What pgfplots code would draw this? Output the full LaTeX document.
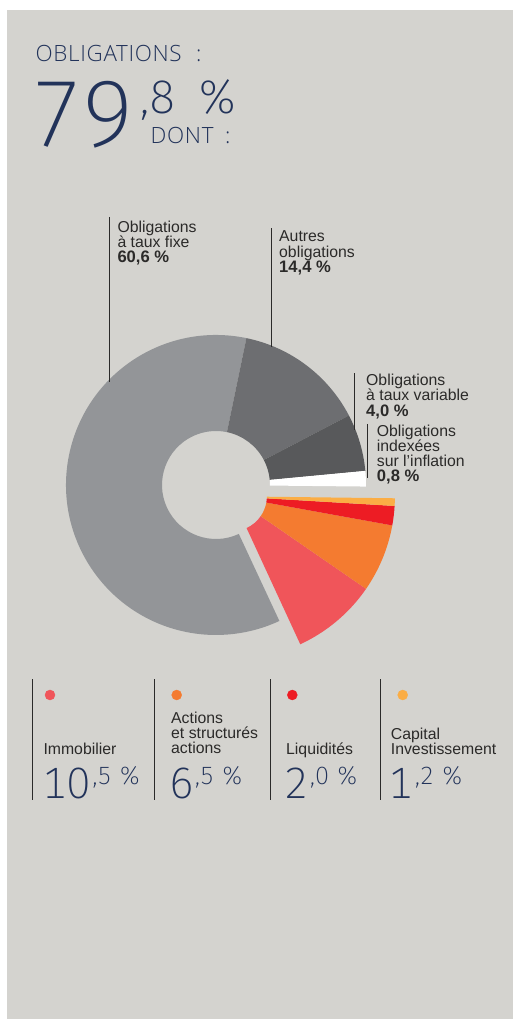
\documentclass[border=0pt]{standalone}
\usepackage{pgfplots}
\pgfplotsset{compat=1.18}
\usetikzlibrary{calc}
\usepackage{fontspec}
\setmainfont{Liberation Sans}
\IfFontExistsTF{Open Sans Light}{\newfontfamily\light{Open Sans Light}[LetterSpace=3]}{\newfontfamily\light{Liberation Sans}}
\IfFontExistsTF{Fira Sans ExtraLight}{\newfontfamily\xlight{Fira Sans ExtraLight}[Numbers=Monospaced]}{\let\xlight\light}

\definecolor{panel}{HTML}{D4D3CF}
\definecolor{navy}{HTML}{22335A}
\definecolor{txt}{HTML}{2B2A29}
\definecolor{cFixe}{HTML}{939598}
\definecolor{cAutres}{HTML}{6D6E71}
\definecolor{cVar}{HTML}{58595B}
\definecolor{cImmo}{HTML}{F0555A}
\definecolor{cAct}{HTML}{F47B30}
\definecolor{cLiq}{HTML}{ED1C24}
\definecolor{cCap}{HTML}{FBAD45}

% ring sector: centre x, centre y, inner r, outer r, start angle, end angle, colour
\newcommand{\slice}[7]{%
  \fill[#7] ($(axis cs:#1,#2)+(#5:#4pt)$) arc[start angle=#5, end angle=#6, radius=#4pt]
    -- ($(axis cs:#1,#2)+(#6:#3pt)$) arc[start angle=#6, end angle=#5, radius=#3pt] -- cycle;}
\newcommand{\lbl}[3]{\node[anchor=base west, inner sep=0pt, text=txt,
  font=\fontsize{15.8}{16}\selectfont] at (axis cs:#1,#2) {#3};}
\newcommand{\val}[3]{\node[anchor=base west, inner sep=0pt, text=txt,
  font=\fontsize{16.6}{16}\selectfont\bfseries] at (axis cs:#1,#2) {#3};}
% big figure: x, x of decimals, integer part, decimal
\newcommand{\pct}[4]{%
  \node[anchor=base west, inner sep=0pt, text=navy] at (axis cs:#1,220.7)
    {\xlight\fontsize{44}{44}\selectfont #3};
  \node[anchor=base west, inner sep=0pt, text=navy] at (axis cs:#2,234)
    {\xlight\fontsize{25}{25}\selectfont ,#4~\%};}

\begin{document}
\begin{tikzpicture}
\begin{axis}[
    x=1pt, y=1pt,
    xmin=0, xmax=513, ymin=0, ymax=1019,
    hide axis, clip=false,
  ]
  \fill[white] (axis cs:0,0) rectangle (axis cs:513,1019);
  \fill[panel] (axis cs:7,0) rectangle (axis cs:513,1009);

  % obligations 79,8 %: 60,6 / 14,4 / 4,0 / 0,8
  \slice{216}{534}{54}{150}{78.3}{295}{cFixe}
  \slice{216}{534}{54}{150}{27.6}{78.3}{cAutres}
  \slice{216}{534}{54}{150}{5.4}{27.6}{cVar}
  \slice{216}{534}{54}{150}{-0.6}{5.4}{white}
  % detached part: 10,5 / 6,5 / 2,0 / 1,2
  \slice{231.9}{522.7}{35}{163}{-65.2}{-34.6}{cImmo}
  \slice{231.9}{522.7}{35}{163}{-34.6}{-10.3}{cAct}
  \slice{231.9}{522.7}{35}{163}{-10.3}{-3.4}{cLiq}
  \slice{231.9}{522.7}{35}{163}{-3.4}{-0.7}{cCap}

  % leader lines
  \draw[txt, line width=0.9pt] (axis cs:109.3,802) -- (axis cs:109.3,637);
  \draw[txt, line width=0.9pt] (axis cs:271,790.7) -- (axis cs:271,672.3);
  \draw[txt, line width=0.9pt] (axis cs:354.7,645.7) -- (axis cs:354.7,589);
  \draw[txt, line width=0.9pt] (axis cs:367.3,595) -- (axis cs:367.3,541);

  \lbl{117.3}{786.7}{Obligations}
  \lbl{117.3}{771.7}{à taux fixe}
  \val{117.3}{756.3}{60,6 \%}
  \lbl{279}{777.3}{Autres}
  \lbl{279}{761.7}{obligations}
  \val{279}{746.3}{14,4 \%}
  \lbl{366}{633}{Obligations}
  \lbl{366}{618}{à taux variable}
  \val{366}{602.3}{4,0 \%}
  \lbl{376.7}{582.3}{Obligations}
  \lbl{376.7}{567.3}{indexées}
  \lbl{376.7}{552}{sur l’inflation}
  \val{376.7}{537}{0,8 \%}

  % heading
  \node[anchor=base west, inner sep=0pt, text=navy] at (axis cs:35.5,957.3)
    {\light\fontsize{22.4}{22}\selectfont OBLIGATIONS};
  \node[anchor=base west, inner sep=0pt, text=navy] at (axis cs:196,957.3)
    {\light\fontsize{22.4}{22}\selectfont :};
  \node[anchor=base west, inner sep=0pt, text=navy] at (axis cs:30,872.3)
    {\xlight\fontsize{94}{94}\selectfont 79};
  \node[anchor=base west, inner sep=0pt, text=navy] at (axis cs:140.5,905.7)
    {\xlight\fontsize{47}{47}\selectfont ,8~\hspace{7pt}\%};
  \node[anchor=base west, inner sep=0pt, text=navy] at (axis cs:150.5,875)
    {\light\fontsize{22.4}{22}\selectfont DONT};
  \node[anchor=base west, inner sep=0pt, text=navy] at (axis cs:225,875)
    {\light\fontsize{22.4}{22}\selectfont :};

  % lower key
  \draw[txt, line width=1pt] (axis cs:32.7,339.7) -- (axis cs:32.7,219);
  \draw[txt, line width=1pt] (axis cs:154,339.7) -- (axis cs:154,219);
  \draw[txt, line width=1pt] (axis cs:270.7,339.7) -- (axis cs:270.7,219);
  \draw[txt, line width=1pt] (axis cs:380,339.7) -- (axis cs:380,219);
  \addplot[only marks, mark=*, mark size=5pt, color=cImmo] coordinates {(50,324)};
  \addplot[only marks, mark=*, mark size=5pt, color=cAct] coordinates {(176.7,324)};
  \addplot[only marks, mark=*, mark size=5pt, color=cLiq] coordinates {(292.3,324)};
  \addplot[only marks, mark=*, mark size=5pt, color=cCap] coordinates {(402.7,324)};

  \lbl{43.3}{264}{Immobilier}
  \lbl{171}{295.7}{Actions}
  \lbl{171}{280.3}{et structurés}
  \lbl{171}{265}{actions}
  \lbl{286}{264}{Liquidités}
  \lbl{390.7}{279.7}{Capital}
  \lbl{390.7}{264}{Investissement}

  \pct{42}{92.5}{10}{5}
  \pct{169}{195}{6}{5}
  \pct{284}{310}{2}{0}
  \pct{388}{415}{1}{2}
\end{axis}
\end{tikzpicture}
\end{document}
